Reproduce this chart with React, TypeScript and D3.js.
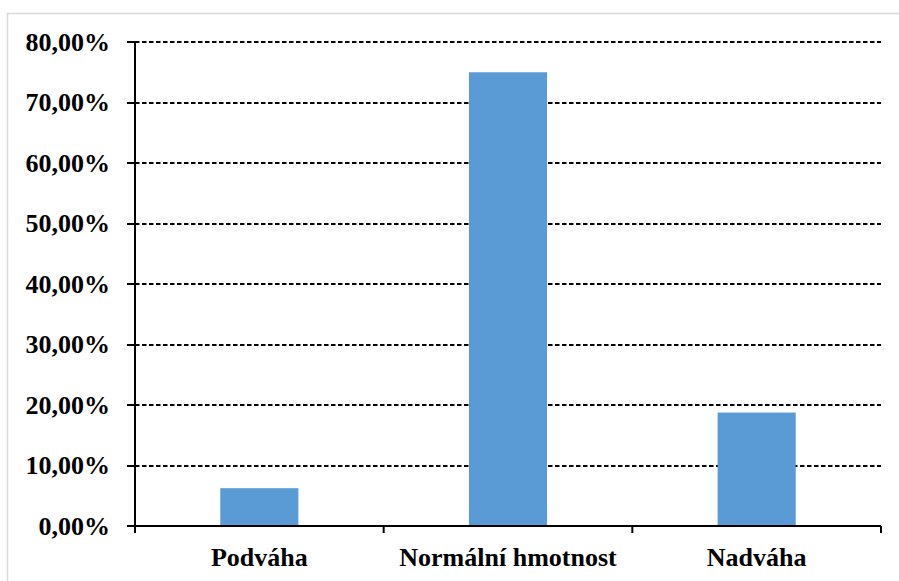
import React from "react";
import * as d3 from "d3";

const W = 899;
const H = 581;
const LEFT = 135;
const RIGHT = 881;
const TOP = 42;
const BOTTOM = 526;

const categories = ["Podváha", "Normální hmotnost", "Nadváha"];
const values = [6.25, 75, 18.75];
const yTicks = [0, 10, 20, 30, 40, 50, 60, 70, 80];

const BAR_COLOR = "#5B9BD5";
const FONT = "Liberation Serif, Times New Roman, Times, DejaVu Serif, serif";

const fmt = (v: number) => v.toFixed(2).replace(".", ",") + "%";

const App = () => {
  const x = d3.scaleBand<string>().domain(categories).range([LEFT, RIGHT]).padding(0);
  const y = d3.scaleLinear().domain([0, 80]).range([BOTTOM, TOP]);
  const barW = x.bandwidth() * 0.314;
  const bounds = [...categories.map((c) => x(c) as number), RIGHT];

  const textStyle = { fontFamily: FONT, fontWeight: 700, fontSize: "26px" };

  return (
    <svg
      width={W}
      height={H}
      style={{ position: "absolute", left: 0, top: 0, background: "#fff" }}
    >
      {/* outer frame, cut off on the right and bottom */}
      <rect x={7.5} y={13.5} width={W} height={H} fill="#fff" stroke="#d9d9d9" strokeWidth={1.5} />

      {/* gridlines */}
      {yTicks.filter((t) => t > 0).map((t) => (
        <line
          key={"g" + t}
          x1={LEFT}
          x2={RIGHT}
          y1={Math.round(y(t))}
          y2={Math.round(y(t))}
          stroke="#000"
          strokeWidth={2}
          strokeDasharray="4.5,2.5"
        />
      ))}

      {/* bars */}
      {categories.map((c, i) => (
        <rect
          key={c}
          x={(x(c) as number) + x.bandwidth() / 2 - barW / 2}
          y={y(values[i])}
          width={barW}
          height={y(0) - y(values[i])}
          fill={BAR_COLOR}
        />
      ))}

      {/* y axis */}
      <line x1={LEFT} x2={LEFT} y1={TOP} y2={BOTTOM + 7} stroke="#000" strokeWidth={2} />
      {yTicks.map((t) => (
        <g key={"y" + t}>
          <line x1={LEFT - 8} x2={LEFT} y1={Math.round(y(t))} y2={Math.round(y(t))} stroke="#000" strokeWidth={2} />
          <text x={110} y={y(t)} dy="0.33em" textAnchor="end" fill="#000" style={textStyle}>
            {fmt(t)}
          </text>
        </g>
      ))}

      {/* x axis */}
      <line x1={LEFT} x2={RIGHT} y1={BOTTOM} y2={BOTTOM} stroke="#000" strokeWidth={2} />
      {bounds.map((b, i) => (
        <line key={"xt" + i} x1={b} x2={b} y1={BOTTOM} y2={BOTTOM + 7} stroke="#000" strokeWidth={2} />
      ))}
      {categories.map((c) => (
        <text
          key={"xl" + c}
          x={(x(c) as number) + x.bandwidth() / 2}
          y={566}
          textAnchor="middle"
          fill="#000"
          style={textStyle}
        >
          {c}
        </text>
      ))}
    </svg>
  );
};

export default App;
